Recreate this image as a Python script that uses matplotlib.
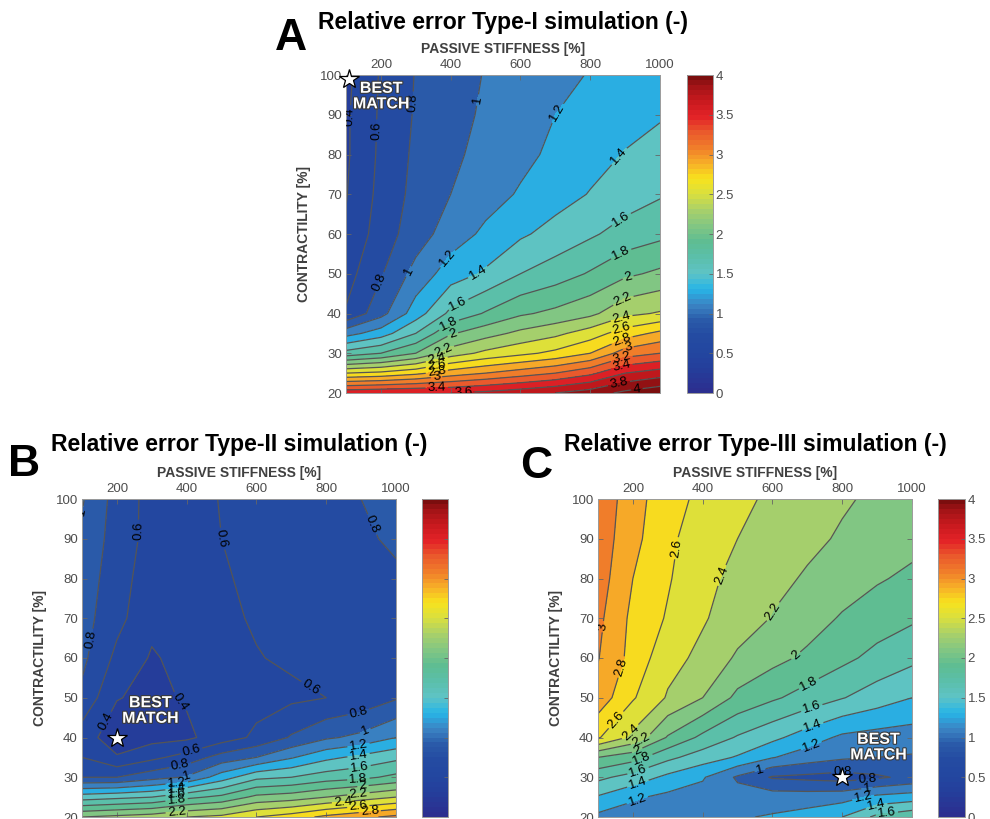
import numpy as np
import matplotlib
matplotlib.use("Agg")
import matplotlib.pyplot as plt
import matplotlib.patheffects as pe
from matplotlib.colors import LinearSegmentedColormap, Normalize

plt.rcParams["font.family"] = ["Liberation Sans", "DejaVu Sans"]

# grid of the parameter sweep
stiffness = [100, 200, 300, 400, 500, 600, 700, 800, 900, 1000]
contractility = [20, 25, 30, 35, 40, 50, 60, 70, 80, 90, 100]

# relative error, one row per contractility value (bottom to top)
err_type1 = [
    [3.55, 3.58, 3.60, 3.60, 3.65, 3.72, 3.80, 3.90, 4.05, 4.15],
    [2.60, 2.65, 2.75, 2.90, 3.00, 3.10, 3.20, 3.35, 3.60, 3.70],
    [1.68, 1.80, 2.00, 2.30, 2.45, 2.55, 2.65, 2.80, 3.10, 3.20],
    [1.12, 1.30, 1.60, 1.98, 2.12, 2.25, 2.35, 2.50, 2.70, 2.85],
    [0.62, 0.93, 1.30, 1.65, 1.82, 1.97, 2.05, 2.15, 2.35, 2.42],
    [0.52, 0.78, 1.07, 1.30, 1.43, 1.60, 1.70, 1.82, 1.96, 2.04],
    [0.42, 0.70, 0.90, 1.10, 1.24, 1.37, 1.47, 1.57, 1.68, 1.75],
    [0.39, 0.66, 0.86, 1.00, 1.12, 1.22, 1.32, 1.41, 1.50, 1.58],
    [0.37, 0.64, 0.84, 0.96, 1.06, 1.15, 1.24, 1.33, 1.41, 1.48],
    [0.37, 0.63, 0.82, 0.93, 1.03, 1.11, 1.20, 1.27, 1.33, 1.38],
    [0.35, 0.62, 0.81, 0.92, 1.01, 1.08, 1.15, 1.21, 1.27, 1.33],
]
err_type2 = [
    [2.20, 2.25, 2.30, 2.40, 2.45, 2.60, 2.70, 2.85, 2.95, 3.05],
    [1.50, 1.55, 1.60, 1.75, 1.85, 2.05, 2.10, 2.20, 2.30, 2.40],
    [0.80, 0.80, 0.92, 1.02, 1.30, 1.55, 1.60, 1.70, 1.75, 1.85],
    [0.60, 0.42, 0.55, 0.68, 0.88, 1.00, 1.18, 1.35, 1.45, 1.55],
    [0.50, 0.28, 0.33, 0.36, 0.50, 0.64, 0.82, 0.97, 1.05, 1.20],
    [0.75, 0.41, 0.35, 0.42, 0.50, 0.53, 0.56, 0.60, 0.66, 0.78],
    [0.85, 0.55, 0.38, 0.46, 0.54, 0.59, 0.63, 0.66, 0.70, 0.74],
    [0.88, 0.66, 0.45, 0.50, 0.56, 0.62, 0.65, 0.68, 0.71, 0.75],
    [0.92, 0.68, 0.50, 0.50, 0.58, 0.64, 0.67, 0.71, 0.74, 0.77],
    [0.96, 0.71, 0.53, 0.52, 0.60, 0.65, 0.69, 0.73, 0.77, 0.83],
    [1.02, 0.72, 0.53, 0.52, 0.61, 0.66, 0.70, 0.75, 0.80, 0.86],
]
err_type3 = [
    [1.15, 1.10, 1.12, 1.15, 1.18, 1.22, 1.28, 1.40, 1.65, 1.75],
    [1.38, 1.23, 1.15, 1.12, 1.08, 1.10, 1.10, 1.12, 1.25, 1.30],
    [1.65, 1.52, 1.35, 1.22, 0.97, 0.78, 0.75, 0.72, 0.77, 0.85],
    [2.00, 1.88, 1.65, 1.50, 1.38, 1.21, 1.10, 1.03, 1.00, 0.98],
    [2.62, 2.35, 1.98, 1.75, 1.58, 1.45, 1.30, 1.16, 1.12, 1.10],
    [2.92, 2.62, 2.38, 2.20, 1.95, 1.83, 1.72, 1.61, 1.50, 1.40],
    [3.01, 2.73, 2.47, 2.35, 2.17, 2.06, 1.96, 1.85, 1.74, 1.65],
    [3.05, 2.75, 2.58, 2.42, 2.30, 2.19, 2.09, 1.98, 1.90, 1.83],
    [3.10, 2.80, 2.62, 2.45, 2.35, 2.25, 2.18, 2.10, 2.02, 1.96],
    [3.12, 2.86, 2.64, 2.50, 2.40, 2.32, 2.24, 2.18, 2.12, 2.06],
    [3.15, 2.88, 2.68, 2.55, 2.44, 2.37, 2.30, 2.22, 2.17, 2.12],
]

# best match (passive stiffness, contractility)
best_type1 = (110, 99)
best_type2 = (200, 40)
best_type3 = (800, 30)

titles = ["Relative error Type-I simulation (-)",
          "Relative error Type-II simulation (-)",
          "Relative error Type-III simulation (-)"]
letters = ["A", "B", "C"]

# where the contour labels sit (data coords, snapped to nearest line)
labels_a = [(121, 89.6), (186, 86), (300, 93), (470, 93.8), (718, 89.6), (890, 79),
            (890, 63.6), (890, 54.8), (909, 48.9), (894, 43.5), (890, 38.9), (890, 36.3),
            (890, 33.6), (909, 31.3), (890, 28.8), (890, 26.7), (880, 23.4), (933, 21.5),
            (178, 48.5), (279, 50.6), (403, 53), (479, 50.2), (427, 41.4), (398, 36.8),
            (406, 34.7), (379, 30.9), (360, 28.5), (360, 27), (360, 25.5), (360, 23.5),
            (360, 21.5), (436, 20.4)]
labels_b = [(110, 96), (133, 64.5), (248, 92), (487, 89.7), (763, 53.6), (940, 93.9),
            (171, 43.9), (386, 49.4), (414, 36.6), (381, 33.1), (400, 30.6), (892, 46.5),
            (911, 41.9), (892, 38.5), (892, 36), (895, 33.1), (892, 29.7), (905, 28),
            (892, 26.3), (848, 23.9), (892, 22.6), (925, 21.3), (371, 28.9), (371, 27.2),
            (371, 26), (371, 24.3), (371, 21.8)]
labels_c = [(121, 67.8), (164, 57.8), (326, 87.6), (465, 80.4), (603, 71.6), (666, 60.7),
            (704, 53.6), (713, 47.3), (718, 42.2), (709, 38.5), (562, 32.7), (801, 32.2),
            (873, 29.3), (871, 27.1), (861, 24.6), (900, 22.5), (928, 20.8), (152, 44.4),
            (185, 41.9), (223, 39.4), (214, 36.4), (228, 34.3), (214, 31.8), (214, 28.5),
            (214, 23.9)]

cmap_points = [
    (0.0, "#2c2f8f"), (0.3, "#243f9c"), (0.5, "#2347a0"), (0.7, "#244ba2"),
    (0.9, "#2a5ba9"), (1.1, "#3b84c4"), (1.3, "#27b5e7"), (1.5, "#5ec3c5"),
    (1.7, "#5bbfab"), (1.9, "#5ebd92"), (2.1, "#82c683"), (2.3, "#a8d06a"),
    (2.5, "#d8df40"), (2.7, "#f7e31d"), (2.9, "#f7ae28"), (3.1, "#f07f2a"),
    (3.3, "#ea5a2c"), (3.5, "#e32227"), (3.7, "#c8191e"), (3.9, "#a01316"),
    (4.0, "#7b0e0e"),
]
cmap = LinearSegmentedColormap.from_list(
    "err", [(v / 4.0, c) for v, c in cmap_points], N=64)
fill_levels = np.round(np.arange(0, 4.21, 0.2), 2)
line_levels = np.round(np.arange(0.2, 4.01, 0.2), 2)
cbar_ticks = np.arange(0, 4.01, 0.5)

W, H = 990, 819
fig = plt.figure(figsize=(W / 100, H / 100), dpi=100)


def box(x0, y0, x1, y1):
    return [x0 / W, 1 - y1 / H, (x1 - x0) / W, (y1 - y0) / H]


tick_col = "#4d4d4d"
label_col = "#404040"

panels = [
    dict(z=err_type1, ax=(346, 75, 660, 393), cb=(687, 713), title_y=22, letter_xy=(291, 39),
         best=best_type1, text_xy=(201, 94.7), labels=labels_a, cb_labels=True),
    dict(z=err_type2, ax=(82, 499, 396, 817), cb=(422, 448), title_y=445, letter_xy=(24, 464),
         best=best_type2, text_xy=(296, 46.8), labels=labels_b, cb_labels=False),
    dict(z=err_type3, ax=(598, 499, 912, 817), cb=(938, 965), title_y=445, letter_xy=(536, 466),
         best=best_type3, text_xy=(904, 37.6), labels=labels_c, cb_labels=True),
]

for i, p in enumerate(panels):
    x0, y0, x1, y1 = p["ax"]
    ax = fig.add_axes(box(x0, y0, x1, y1))
    z = np.array(p["z"])
    ax.contourf(stiffness, contractility, z, levels=fill_levels, cmap=cmap,
                norm=Normalize(vmin=0, vmax=4))
    cs = ax.contour(stiffness, contractility, z, levels=line_levels,
                    colors="#555555", linewidths=0.9)
    ax.set_xlim(100, 1000)
    ax.set_ylim(20, 100)
    ax.clabel(cs, manual=p["labels"], inline=True, inline_spacing=2,
              fontsize=9.5, fmt="%g", colors="black")

    ax.xaxis.tick_top()
    ax.xaxis.set_label_position("top")
    ax.set_xticks([200, 400, 600, 800, 1000])
    ax.set_yticks(np.arange(20, 101, 10))
    ax.tick_params(direction="in", length=3.5, width=0.6, colors="#666666",
                   labelcolor=tick_col, labelsize=9.5, top=True, bottom=True,
                   left=True, right=True, pad=3)
    for s in ax.spines.values():
        s.set_color("#9a9a9a")
        s.set_linewidth(0.7)
    ax.set_xlabel("PASSIVE STIFFNESS [%]", fontsize=10, fontweight="bold",
                  color=label_col, labelpad=4)
    ax.set_ylabel("CONTRACTILITY [%]", fontsize=10, fontweight="bold",
                  color=label_col, labelpad=6)

    bx, by = p["best"]
    ax.plot(bx, by, marker="*", markersize=15, mfc="white", mec="black",
            mew=0.9, clip_on=False, zorder=10)
    tx, ty = p["text_xy"]
    ax.text(tx, ty, "BEST\nMATCH", ha="center", va="center", fontsize=11.5,
            fontweight="bold", color="white", linespacing=1.05, zorder=11,
            path_effects=[pe.withStroke(linewidth=1.6, foreground="#3a3a3a")])

    c0, c1 = p["cb"]
    cax = fig.add_axes(box(c0, y0, c1, y1))
    sm = plt.cm.ScalarMappable(cmap=cmap, norm=Normalize(vmin=0, vmax=4))
    cbar = fig.colorbar(sm, cax=cax, ticks=cbar_ticks, format="%g")
    cbar.outline.set_edgecolor("#9a9a9a")
    cbar.outline.set_linewidth(0.7)
    cax.tick_params(direction="in", length=3, width=0.6, colors="#666666",
                    labelcolor=tick_col, labelsize=9.5, pad=2,
                    labelright=p["cb_labels"])

    cx = (x0 + x1) / 2
    fig.text(cx / W, 1 - p["title_y"] / H, titles[i], ha="center", va="center",
             fontsize=16.6, fontweight="bold")
    lx, ly = p["letter_xy"]
    fig.text(lx / W, 1 - ly / H, letters[i], ha="center", va="center",
             fontsize=32, fontweight="bold")

fig.savefig("out.png", dpi=100)
